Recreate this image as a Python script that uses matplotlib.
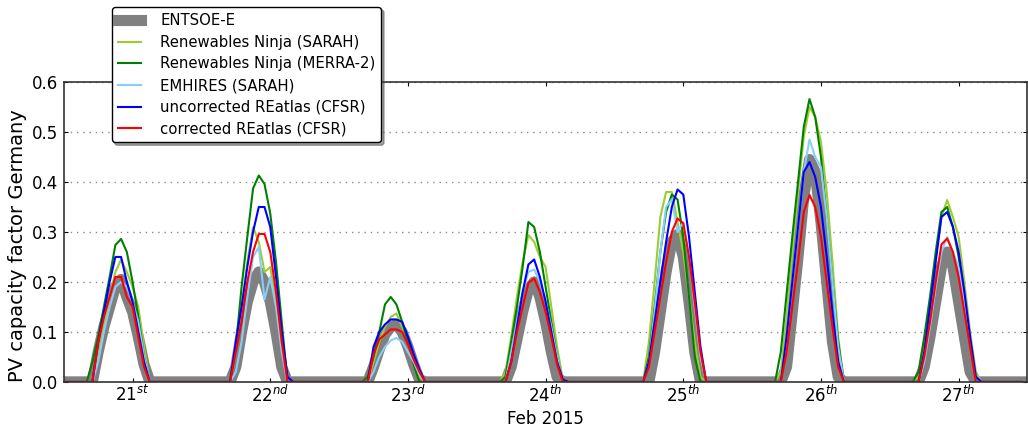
import numpy as np
import pandas as pd
import matplotlib
matplotlib.use("Agg")
import matplotlib.pyplot as plt

# hourly capacity factors, hours 04:00 .. 16:00 of each day (Feb 21 .. Feb 27), zero otherwise
days = [21, 22, 23, 24, 25, 26, 27]
suffix = ["st", "nd", "rd", "th", "th", "th", "th"]

entsoe = [
    [0, 0, 0.06, 0.11, 0.15, 0.19, 0.205, 0.17, 0.14, 0.09, 0.035, 0, 0],
    [0, 0, 0.03, 0.10, 0.16, 0.20, 0.22, 0.20, 0.16, 0.10, 0.03, 0, 0],
    [0, 0, 0.03, 0.065, 0.095, 0.11, 0.115, 0.10, 0.07, 0.035, 0.005, 0, 0],
    [0, 0, 0.03, 0.085, 0.14, 0.185, 0.20, 0.17, 0.12, 0.06, 0.01, 0, 0],
    [0, 0, 0, 0.06, 0.14, 0.22, 0.28, 0.295, 0.25, 0.16, 0.06, 0, 0],
    [0, 0, 0.03, 0.14, 0.25, 0.37, 0.445, 0.42, 0.32, 0.20, 0.08, 0.01, 0],
    [0, 0, 0.03, 0.09, 0.16, 0.23, 0.26, 0.23, 0.16, 0.09, 0.02, 0, 0],
]
ninja_sarah = [
    [0, 0, 0.05, 0.11, 0.17, 0.22, 0.245, 0.22, 0.19, 0.15, 0.07, 0, 0],
    [0, 0, 0.06, 0.15, 0.24, 0.31, 0.28, 0.22, 0.23, 0.16, 0.07, 0, 0],
    [0, 0, 0.04, 0.08, 0.11, 0.13, 0.137, 0.11, 0.075, 0.04, 0.01, 0, 0],
    [0, 0.02, 0.09, 0.17, 0.24, 0.294, 0.28, 0.25, 0.23, 0.15, 0.07, 0.005, 0],
    [0, 0, 0.08, 0.20, 0.33, 0.38, 0.38, 0.32, 0.26, 0.17, 0.08, 0.01, 0],
    [0, 0.02, 0.13, 0.26, 0.38, 0.49, 0.55, 0.53, 0.48, 0.38, 0.24, 0.09, 0],
    [0, 0.01, 0.08, 0.16, 0.25, 0.33, 0.364, 0.33, 0.29, 0.20, 0.10, 0.02, 0],
]
ninja_merra = [
    [0, 0.04, 0.09, 0.15, 0.21, 0.274, 0.286, 0.26, 0.20, 0.13, 0.05, 0, 0],
    [0, 0, 0.07, 0.19, 0.29, 0.387, 0.413, 0.396, 0.337, 0.24, 0.12, 0, 0],
    [0, 0.01, 0.05, 0.10, 0.155, 0.17, 0.155, 0.12, 0.08, 0.035, 0, 0, 0],
    [0, 0.01, 0.08, 0.15, 0.23, 0.32, 0.31, 0.26, 0.19, 0.12, 0.05, 0, 0],
    [0, 0, 0.05, 0.15, 0.26, 0.34, 0.375, 0.365, 0.29, 0.17, 0.05, 0, 0],
    [0, 0.06, 0.175, 0.29, 0.40, 0.51, 0.566, 0.53, 0.45, 0.33, 0.20, 0.08, 0],
    [0, 0.02, 0.09, 0.17, 0.26, 0.34, 0.35, 0.31, 0.25, 0.17, 0.08, 0.01, 0],
]
emhires = [
    [0, 0, 0.04, 0.10, 0.15, 0.19, 0.20, 0.19, 0.16, 0.12, 0.05, 0, 0],
    [0, 0, 0.02, 0.08, 0.17, 0.25, 0.27, 0.165, 0.21, 0.15, 0.06, 0, 0],
    [0, 0, 0.02, 0.05, 0.07, 0.083, 0.088, 0.08, 0.06, 0.04, 0.015, 0, 0],
    [0, 0, 0.06, 0.12, 0.18, 0.22, 0.225, 0.20, 0.16, 0.11, 0.05, 0, 0],
    [0, 0, 0.04, 0.14, 0.26, 0.35, 0.365, 0.30, 0.32, 0.25, 0.15, 0.05, 0],
    [0, 0, 0.09, 0.20, 0.31, 0.42, 0.485, 0.45, 0.43, 0.33, 0.20, 0.07, 0],
    [0, 0, 0.04, 0.11, 0.19, 0.26, 0.29, 0.26, 0.23, 0.16, 0.08, 0.01, 0],
]
reatlas_raw = [
    [0, 0, 0.08, 0.14, 0.20, 0.25, 0.25, 0.20, 0.16, 0.10, 0.04, 0, 0],
    [0, 0, 0.08, 0.15, 0.23, 0.30, 0.35, 0.35, 0.31, 0.21, 0.10, 0.01, 0],
    [0, 0, 0.07, 0.10, 0.115, 0.125, 0.125, 0.12, 0.09, 0.055, 0.025, 0, 0],
    [0, 0, 0.04, 0.11, 0.18, 0.235, 0.245, 0.21, 0.16, 0.10, 0.04, 0.005, 0],
    [0, 0, 0.04, 0.12, 0.20, 0.28, 0.35, 0.385, 0.375, 0.29, 0.18, 0.07, 0],
    [0, 0, 0.09, 0.20, 0.31, 0.42, 0.44, 0.41, 0.35, 0.25, 0.14, 0.04, 0],
    [0, 0, 0.06, 0.15, 0.24, 0.33, 0.34, 0.31, 0.26, 0.18, 0.09, 0.01, 0],
]
reatlas_cor = [
    [0, 0, 0.08, 0.13, 0.17, 0.21, 0.21, 0.17, 0.15, 0.09, 0.03, 0, 0],
    [0, 0, 0.06, 0.12, 0.20, 0.26, 0.296, 0.296, 0.26, 0.18, 0.08, 0, 0],
    [0, 0, 0.055, 0.085, 0.095, 0.105, 0.105, 0.10, 0.075, 0.045, 0.02, 0, 0],
    [0, 0, 0.04, 0.10, 0.15, 0.198, 0.207, 0.18, 0.14, 0.09, 0.035, 0, 0],
    [0, 0, 0.03, 0.10, 0.17, 0.24, 0.30, 0.327, 0.317, 0.25, 0.16, 0.06, 0],
    [0, 0, 0.06, 0.15, 0.24, 0.34, 0.374, 0.35, 0.29, 0.20, 0.11, 0.03, 0],
    [0, 0, 0.05, 0.12, 0.20, 0.275, 0.287, 0.26, 0.21, 0.14, 0.07, 0, 0],
]

time = pd.date_range("2015-02-21 00:00", periods=24 * len(days), freq="h")


def hourly(daily):
    out = []
    for d in daily:
        out += [0.0] * 4 + list(d) + [0.0] * (24 - 4 - len(d))
    return pd.Series(out, index=time)


series = [
    (entsoe, "ENTSOE-E", "gray", 8),
    (ninja_sarah, "Renewables Ninja (SARAH)", "yellowgreen", 1.5),
    (ninja_merra, "Renewables Ninja (MERRA-2)", "green", 1.5),
    (emhires, "EMHIRES (SARAH)", "lightskyblue", 1.5),
    (reatlas_raw, "uncorrected REatlas (CFSR)", "blue", 1.5),
    (reatlas_cor, "corrected REatlas (CFSR)", "red", 1.5),
]

fig, ax = plt.subplots(figsize=(10.28, 4.32), dpi=100)
fig.subplots_adjust(left=0.062, right=0.9995, top=0.81, bottom=0.116)

for data, name, col, lw in series:
    s = hourly(data)
    ax.plot(s.index, s.values, color=col, lw=lw, label=name)

ax.set_xlim(pd.Timestamp("2015-02-21 00:00"), pd.Timestamp("2015-02-28 00:00"))
ax.set_ylim(0, 0.6)
ax.set_yticks(np.arange(0, 0.61, 0.1))
ax.set_yticklabels(["%.1f" % v for v in np.arange(0, 0.61, 0.1)])

noon = [pd.Timestamp(2015, 2, d, 12) for d in days]
ax.set_xticks(noon)
ax.set_xticklabels(["%d$^{%s}$" % (d, s) for d, s in zip(days, suffix)])

for sp in ax.spines.values():
    sp.set_color("#333333")
    sp.set_linewidth(1.2)

ax.tick_params(direction="in", top=True, right=True, labelsize=12, length=3, pad=4)
ax.tick_params(axis="x", pad=2)
ax.yaxis.grid(True, ls=(0, (1, 3.5)), color="k", lw=1, alpha=0.45)
ax.set_xlabel("Feb 2015", fontsize=12, labelpad=3)
ax.set_ylabel("PV capacity factor Germany", fontsize=14)
ax.yaxis.set_label_coords(-0.038, 0.453)

leg = ax.legend(loc="upper left", bbox_to_anchor=(0.0498, 1.25), borderaxespad=0,
                fontsize=10.7, fancybox=True, shadow=True, framealpha=1,
                handlelength=1.6, handletextpad=1.25, labelspacing=0.45)
leg.get_frame().set_edgecolor("k")

fig.savefig("out.png", dpi=100)
